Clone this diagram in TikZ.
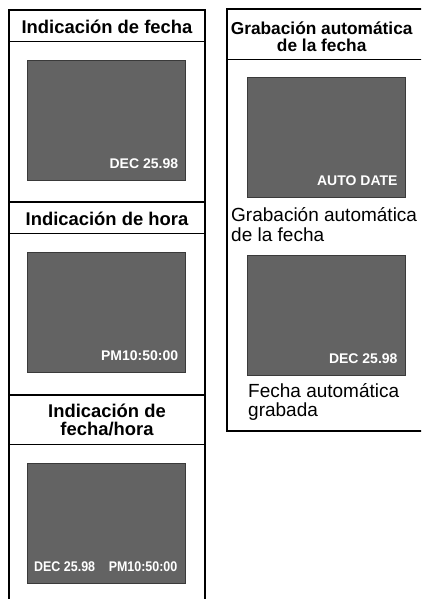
\documentclass[tikz,border=0pt]{standalone}
\usepackage{fontspec}
\setmainfont{Liberation Sans}
\definecolor{scr}{HTML}{636363}
\definecolor{scrb}{HTML}{3A3A3A}
\tikzset{
  outerline/.style={line width=2pt, black},
  headline/.style={line width=1pt, black},
  screen/.style={draw=scrb, line width=0.8pt, fill=scr, minimum width=158pt, minimum height=119.5pt, inner sep=0pt, anchor=north west},
  scrtext/.style={text=white, inner sep=0pt, font=\fontsize{14}{16}\selectfont\bfseries},
  narrowtext/.style={scrtext, xscale=0.89},
  lhead/.style={inner sep=0pt, anchor=base, font=\fontsize{18.4}{20}\selectfont\bfseries},
  rhead/.style={inner sep=0pt, anchor=base, font=\fontsize{17.3}{20}\selectfont\bfseries},
  plain/.style={inner sep=0pt, anchor=base west, font=\fontsize{19}{21}\selectfont},
}
\begin{document}
\begin{tikzpicture}[x=1pt, y=-1pt]
\useasboundingbox (0,0) rectangle (421,599);
\clip (0,0) rectangle (421,599);
% left column
\coordinate (lbl) at (9,640);
\coordinate (ltl) at (9,10);
\coordinate (ltr) at (205,10);
\coordinate (lbr) at (205,640);
\draw[outerline] (lbl) -- (ltl) -- (ltr) -- (lbr);
\coordinate (d1l) at (9,202); \coordinate (d1r) at (205,202);
\coordinate (d2l) at (9,395); \coordinate (d2r) at (205,395);
\draw[outerline] (d1l) -- (d1r);
\draw[outerline] (d2l) -- (d2r);
\coordinate (h1l) at (9,42); \coordinate (h1r) at (205,42);
\coordinate (h2l) at (9,233); \coordinate (h2r) at (205,233);
\coordinate (h3l) at (9,444); \coordinate (h3r) at (205,444);
\draw[headline] (h1l) -- (h1r);
\draw[headline] (h2l) -- (h2r);
\draw[headline] (h3l) -- (h3r);
\node[lhead] (t1) at (107,33.3) {Indicación de fecha};
\node[lhead] (t2) at (107,225) {Indicación de hora};
\node[lhead] (t3a) at (107,417.3) {Indicación de};
\node[lhead] (t3b) at (107,435) {fecha/hora};
\node[screen] (s1) at (27.3,60) {};
\node[screen] (s2) at (27.3,252) {};
\node[screen] (s3) at (27.3,463) {};
\node[scrtext, anchor=base east] (s1t) at (178.3,168.5) {DEC 25.98};
\node[scrtext, anchor=base east] (s2t) at (178.3,360.5) {PM10:50:00};
\node[narrowtext, anchor=base west] (s3a) at (34,571.5) {DEC 25.98};
\node[narrowtext, anchor=base east] (s3b) at (177.5,571.5) {PM10:50:00};
% right column
\coordinate (rtl) at (227,9);
\coordinate (rbr) at (426,431);
\draw[outerline] (rtl) rectangle (rbr);
\coordinate (rh1) at (227,60); \coordinate (rh2) at (426,60);
\draw[headline] (rh1) -- (rh2);
\node[rhead] (r1a) at (321.7,34.3) {Grabación automática};
\node[rhead] (r1b) at (321.7,51.7) {de la fecha};
\node[screen] (s4) at (247,77) {};
\node[screen] (s5) at (247,255) {};
\node[scrtext, anchor=base east] (s4t) at (397.7,185.5) {AUTO DATE};
\node[scrtext, anchor=base east] (s5t) at (397.7,363.5) {DEC 25.98};
\node[plain] (p1a) at (231,221.5) {Grabación automática};
\node[plain] (p1b) at (231,241) {de la fecha};
\node[plain] (p2a) at (248,397) {Fecha automática};
\node[plain] (p2b) at (248,416.5) {grabada};
\end{tikzpicture}
\end{document}
